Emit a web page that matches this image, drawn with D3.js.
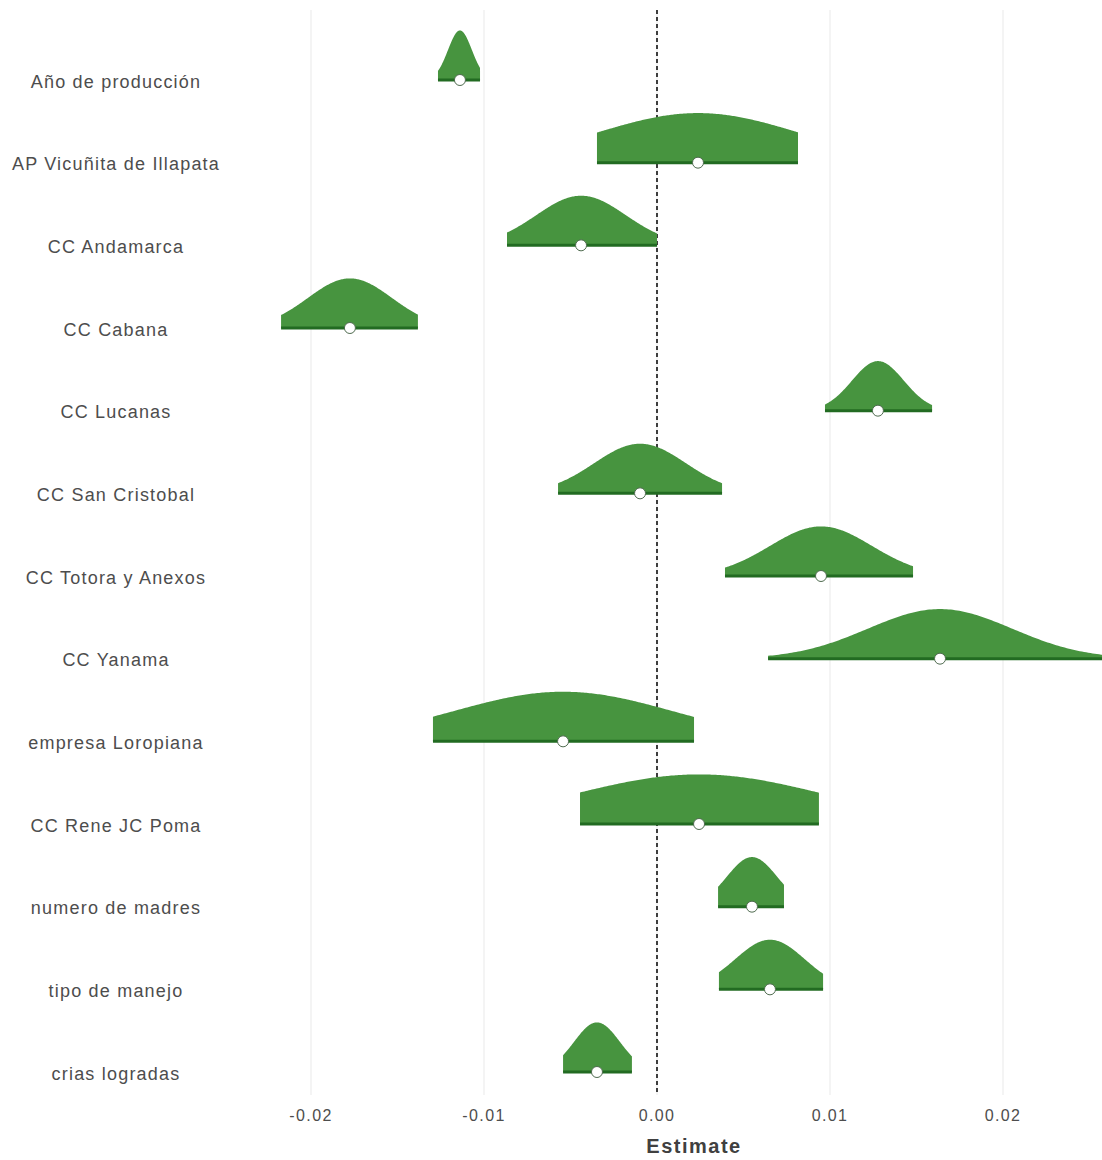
<!DOCTYPE html>
<html>
<head>
<meta charset="utf-8">
<script src="https://cdn.jsdelivr.net/npm/d3@7"></script>
<style>
  html, body { margin: 0; padding: 0; background: #ffffff; }
  svg { display: block; }
</style>
</head>
<body>
<svg id="chart" width="1102" height="1160"></svg>
<script>
// Model terms, top to bottom
const terms = [
  "Año de producción",
  "AP Vicuñita de Illapata",
  "CC Andamarca",
  "CC Cabana",
  "CC Lucanas",
  "CC San Cristobal",
  "CC Totora y Anexos",
  "CC Yanama",
  "empresa Loropiana",
  "CC Rene JC Poma",
  "numero de madres",
  "tipo de manejo",
  "crias logradas"
];

// Point estimates
const estimates = [-0.01139, 0.00237, -0.00439, -0.01775, 0.01277, -0.00098, 0.00948, 0.01636, -0.00543, 0.00243, 0.00549, 0.00653, -0.00347];

// Interval bounds (slab extent)
const lower = [-0.01266, -0.00347, -0.00867, -0.02173, 0.00971, -0.00572, 0.00393, 0.00642, -0.01295, -0.00445, 0.00353, 0.00358, -0.00543];
const upper = [-0.01023, 0.00815, 0.00000, -0.01382, 0.01590, 0.00376, 0.01480, 0.02630, 0.00214, 0.00936, 0.00734, 0.00960, -0.00145];

// Spread of each sampling distribution
const spread = [0.00069, 0.00584, 0.00260, 0.00243, 0.00150, 0.00266, 0.00295, 0.00416, 0.00636, 0.00723, 0.00145, 0.00202, 0.00133];

// Axis ticks
const tickValues = [-0.02, -0.01, 0.00, 0.01, 0.02];
const tickLabels = ["-0.02", "-0.01", "0.00", "0.01", "0.02"];

const rows = terms.map((t, i) => ({
  term: t, est: estimates[i], lo: lower[i], hi: upper[i], sd: spread[i]
}));

const W = 1102, H = 1160;
const panel = { left: 232, right: 1156, top: 10, bottom: 1095 };

const svg = d3.select("#chart");

const x = d3.scaleLinear().domain([-0.02, 0.02]).range([311, 1003]);
const y = d3.scalePoint().domain(terms).range([80, 1072]);
const slabH = (y.step()) * 0.6;

const fillGreen = "#47943f";
const lineGreen = "#226b22";
const textCol = "#4d4d4d";
const font = "'Liberation Sans', Arial, sans-serif";

svg.append("clipPath").attr("id", "panelClip")
  .append("rect")
  .attr("x", panel.left).attr("y", 0)
  .attr("width", W - panel.left).attr("height", H);

// Vertical grid lines
svg.append("g").selectAll("line")
  .data(tickValues)
  .join("line")
  .attr("x1", d => x(d)).attr("x2", d => x(d))
  .attr("y1", panel.top).attr("y2", panel.bottom)
  .attr("stroke", "#ebebeb")
  .attr("stroke-width", 1.1);

// Zero reference
svg.append("line")
  .attr("x1", x(0)).attr("x2", x(0))
  .attr("y1", panel.top).attr("y2", panel.bottom)
  .attr("stroke", "#111")
  .attr("stroke-width", 1.6)
  .attr("stroke-dasharray", "4,3");

const g = svg.append("g").attr("clip-path", "url(#panelClip)");

// Half-eye slabs
const area = d3.area()
  .x(d => x(d.v))
  .y0(d => d.base)
  .y1(d => d.base - d.h)
  .curve(d3.curveLinear);

rows.forEach(r => {
  const base = y(r.term);
  const n = 160;
  const pts = d3.range(n + 1).map(k => {
    const v = r.lo + (r.hi - r.lo) * k / n;
    const z = (v - r.est) / r.sd;
    return { v, base, h: slabH * Math.exp(-0.5 * z * z) };
  });
  g.append("path")
    .datum(pts)
    .attr("d", area)
    .attr("fill", fillGreen);

  g.append("line")
    .attr("x1", x(r.lo)).attr("x2", x(r.hi))
    .attr("y1", base).attr("y2", base)
    .attr("stroke", lineGreen)
    .attr("stroke-width", 3);
});

// Point estimates
g.selectAll("circle.est")
  .data(rows)
  .join("circle")
  .attr("class", "est")
  .attr("cx", d => x(d.est))
  .attr("cy", d => y(d.term))
  .attr("r", 5.5)
  .attr("fill", "#ffffff")
  .attr("stroke", "#4f6b4f")
  .attr("stroke-width", 1);

// Term labels
svg.append("g").selectAll("text")
  .data(terms)
  .join("text")
  .attr("x", 116)
  .attr("y", d => y(d) + 3)
  .attr("text-anchor", "middle")
  .attr("dominant-baseline", "middle")
  .attr("font-family", font)
  .attr("font-size", 18)
  .attr("letter-spacing", "1.2px")
  .attr("fill", textCol)
  .text(d => d);

// X axis labels
svg.append("g").selectAll("text")
  .data(tickValues)
  .join("text")
  .attr("x", d => x(d))
  .attr("y", 1117)
  .attr("text-anchor", "middle")
  .attr("dominant-baseline", "middle")
  .attr("font-family", font)
  .attr("font-size", 16)
  .attr("letter-spacing", "1.4px")
  .attr("fill", textCol)
  .text((d, i) => tickLabels[i]);

// Axis title
svg.append("text")
  .attr("x", (panel.left + panel.right) / 2)
  .attr("y", 1148)
  .attr("text-anchor", "middle")
  .attr("dominant-baseline", "middle")
  .attr("font-family", font)
  .attr("font-size", 20)
  .attr("font-weight", "bold")
  .attr("letter-spacing", "1.5px")
  .attr("fill", "#404040")
  .text("Estimate");
</script>
</body>
</html>
